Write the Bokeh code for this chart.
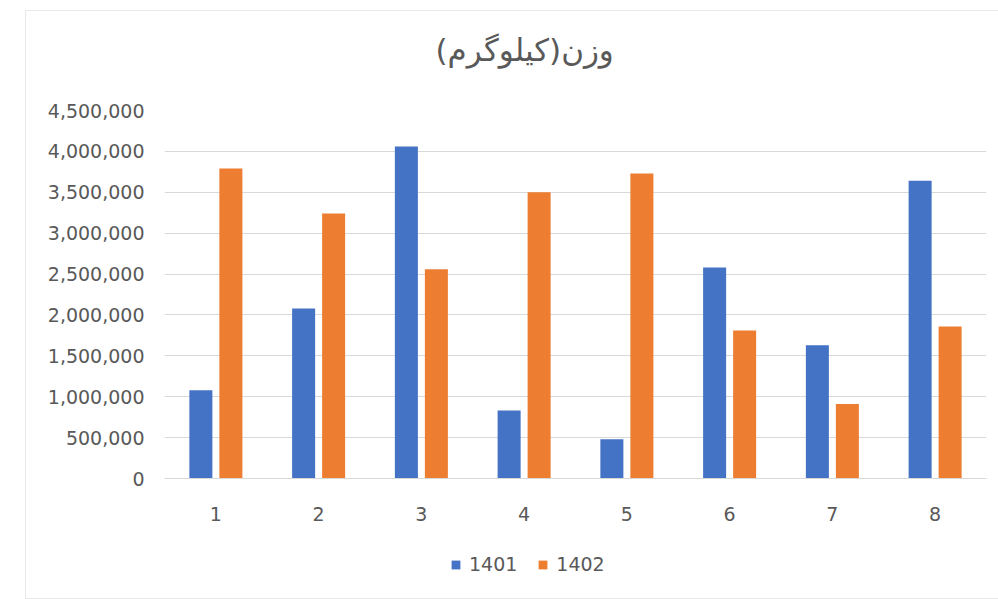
from bokeh.plotting import figure
from bokeh.layouts import column
from bokeh.models import (ColumnDataSource, FactorRange, Legend, LegendItem,
                          NumeralTickFormatter, FixedTicker, Title)
from bokeh.transform import dodge
from bokeh.embed import file_html
from bokeh.resources import INLINE

categories = ["1", "2", "3", "4", "5", "6", "7", "8"]
series_names = ["1401", "1402"]
values_1401 = [1080000, 2080000, 4060000, 830000, 480000, 2580000, 1630000, 3640000]
values_1402 = [3790000, 3240000, 2560000, 3500000, 3730000, 1810000, 910000, 1860000]
y_ticks = [0, 500000, 1000000, 1500000, 2000000, 2500000, 3000000, 3500000, 4000000, 4500000]
title_text = "وزن(کیلوگرم)"
colors = ["#4472C4", "#ED7D31"]
grey = "#595959"

src = ColumnDataSource(dict(cat=categories, a=values_1401, b=values_1402))

p = figure(
    x_range=FactorRange(*categories, range_padding=0),
    y_range=(0, 4500000),
    width=972, height=522,
    output_backend="svg", toolbar_location=None,
    min_border_left=138, min_border_right=12, min_border_top=99, min_border_bottom=55,
)
p.outline_line_color = None
p.background_fill_color = "white"
p.border_fill_color = "white"

p.title.text = title_text
p.title.align = "left"
p.title.offset = 271
p.title.text_font = "DejaVu Sans"
p.title.text_font_size = "31px"
p.title.text_font_style = "normal"
p.title.text_color = grey
p.title.standoff = 10
# blank spacer between the title and the plot area
p.add_layout(Title(text=" ", text_font_size="10px", standoff=25), "above")

p.vbar(x=dodge("cat", -0.146, range=p.x_range), top="a", width=0.224, source=src,
       color=colors[0], line_color=None)
p.vbar(x=dodge("cat", 0.146, range=p.x_range), top="b", width=0.224, source=src,
       color=colors[1], line_color=None)

p.yaxis.ticker = FixedTicker(ticks=y_ticks)
p.yaxis.formatter = NumeralTickFormatter(format="0,0")
p.yaxis.axis_line_color = None
p.yaxis.major_tick_line_color = None
p.yaxis.minor_tick_line_color = None
p.yaxis.major_label_text_font = "DejaVu Sans"
p.yaxis.major_label_text_font_size = "19px"
p.yaxis.major_label_text_color = grey
p.yaxis.major_label_standoff = 14

p.xaxis.axis_line_color = "#d9d9d9"
p.xaxis.major_tick_line_color = None
p.xaxis.minor_tick_line_color = None
p.xaxis.major_label_text_font = "DejaVu Sans"
p.xaxis.major_label_text_font_size = "19px"
p.xaxis.major_label_text_color = grey
p.xaxis.major_label_standoff = 22

p.xgrid.grid_line_color = None
p.ygrid.grid_line_color = "#d9d9d9"
p.ygrid.grid_line_width = 1

# legend strip below the chart (legend-only helper figure; its swatch renderers sit off-range)
p2 = figure(width=972, height=65, x_range=(0, 1), y_range=(0, 1),
            output_backend="svg", toolbar_location=None,
            min_border_left=138, min_border_right=12, min_border_top=0, min_border_bottom=0)
p2.axis.visible = False
p2.grid.grid_line_color = None
p2.outline_line_color = None
p2.border_fill_color = "white"
swatch = ColumnDataSource(dict(x=[-10], top=[-10]))
l1 = p2.vbar(x="x", top="top", width=0.1, source=swatch, color=colors[0], line_color=None)
l2 = p2.vbar(x="x", top="top", width=0.1, source=swatch, color=colors[1], line_color=None)
legend = Legend(items=[LegendItem(label=series_names[0], renderers=[l1]),
                       LegendItem(label=series_names[1], renderers=[l2])],
                orientation="horizontal", location=(286, 23))
legend.label_text_font = "DejaVu Sans"
legend.label_text_font_size = "19px"
legend.label_text_color = grey
legend.glyph_width = 11
legend.glyph_height = 11
legend.label_standoff = 8
legend.spacing = 20
legend.padding = 0
legend.margin = 0
legend.border_line_color = None
legend.background_fill_alpha = 0
p2.add_layout(legend, "center")

layout = column(p, p2, spacing=0,
                styles={"margin-left": "25px", "margin-top": "10px", "border": "1px solid #e8e8e8"})

open("out.html", "w").write(file_html(layout, INLINE))
